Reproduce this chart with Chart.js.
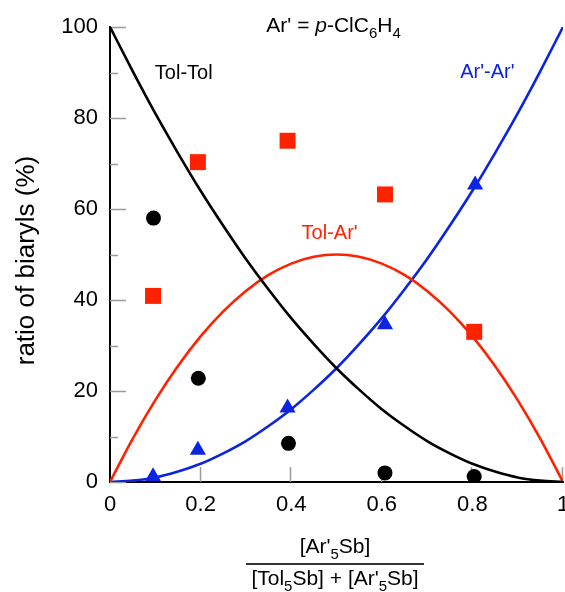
<!DOCTYPE html>
<html>
<head>
<meta charset="utf-8">
<script src="https://cdn.jsdelivr.net/npm/chart.js@4"></script>
<style>
  html, body { margin: 0; padding: 0; background: #fff; }
  canvas { display: block; }
</style>
</head>
<body>
<canvas id="biaryl" width="565" height="592"></canvas>
<script>
// theoretical statistical curves, every 0.05
const curveX      = [0, 0.05, 0.1, 0.15, 0.2, 0.25, 0.3, 0.35, 0.4, 0.45, 0.5, 0.55, 0.6, 0.65, 0.7, 0.75, 0.8, 0.85, 0.9, 0.95, 1];
const tolTolCurve = [100, 90.3, 81, 72.3, 64, 56.3, 49, 42.3, 36, 30.3, 25, 20.3, 16, 12.3, 9, 6.3, 4, 2.3, 1, 0.3, 0];
const tolArCurve  = [0, 9.5, 18, 25.5, 32, 37.5, 42, 45.5, 48, 49.5, 50, 49.5, 48, 45.5, 42, 37.5, 32, 25.5, 18, 9.5, 0];
const arArCurve   = [0, 0.3, 1, 2.3, 4, 6.3, 9, 12.3, 16, 20.3, 25, 30.3, 36, 42.3, 49, 56.3, 64, 72.3, 81, 90.3, 100];

// measured ratios (%)
const tolTolX   = [0.096, 0.195, 0.394, 0.607, 0.804];
const tolTolPct = [58, 22.8, 8.5, 2, 1.2];
const tolArX    = [0.095, 0.194, 0.392, 0.607, 0.804];
const tolArPct  = [40.9, 70.3, 75, 63.2, 33];
const arArX     = [0.095, 0.194, 0.392, 0.607, 0.806];
const arArPct   = [1.2, 7, 16.3, 34.6, 65.3];

const xTicks = [0, 0.2, 0.4, 0.6, 0.8, 1];
const yMinorTicks = [0, 10, 20, 30, 40, 50, 60, 70, 80, 90, 100];

const BLACK = '#000000', RED = '#ff2200', BLUE = '#0a24e0';
const FONT = '"Liberation Sans", Arial, Helvetica, sans-serif';
const PLOT_RIGHT = 563; // x = 1 sits right at the canvas edge

const pts = (xs, ys) => xs.map((x, i) => ({ x, y: ys[i] }));

// rich text: parts = [{t, sub, it}]
function drawRich(ctx, parts, x, y, size, color, align) {
  const fontOf = p => `${p.it ? 'italic ' : ''}${p.sub ? Math.round(size * 0.7) : size}px ${FONT}`;
  let w = 0;
  parts.forEach(p => { ctx.font = fontOf(p); w += ctx.measureText(p.t).width; });
  let cx = align === 'center' ? x - w / 2 : x;
  ctx.fillStyle = color;
  ctx.textBaseline = 'alphabetic';
  ctx.textAlign = 'left';
  parts.forEach(p => {
    ctx.font = fontOf(p);
    ctx.fillText(p.t, cx, p.sub ? y + size * 0.3 : y);
    cx += ctx.measureText(p.t).width;
  });
  return w;
}

// curve labels, in data units
const notes = [
  { x: 0.345, y: 98.9, size: 21, color: BLACK,
    parts: [{ t: "Ar' = " }, { t: 'p', it: true }, { t: '-ClC' }, { t: '6', sub: true }, { t: 'H' }, { t: '4', sub: true }] },
  { x: 0.099, y: 88.5, size: 20, color: BLACK, parts: [{ t: 'Tol-Tol' }] },
  { x: 0.773, y: 88.9, size: 20, color: BLUE, parts: [{ t: "Ar'-Ar'" }] },
  { x: 0.423, y: 53.5, size: 20, color: RED, parts: [{ t: "Tol-Ar'" }] }
];

const decor = {
  id: 'decor',
  // stretch the x scale out to the right edge (chart.js keeps a gap for the last label)
  afterLayout(chart) {
    const x = chart.scales.x;
    x.right = PLOT_RIGHT;
    x.width = PLOT_RIGHT - x.left;
    x.configure();
    chart.chartArea.right = PLOT_RIGHT;
    chart.chartArea.width = PLOT_RIGHT - chart.chartArea.left;
  },
  beforeDatasetsDraw(chart) {
    const { ctx, scales: { x, y } } = chart;
    ctx.save();
    ctx.strokeStyle = '#9a9a9a';
    ctx.lineWidth = 1.5;
    ctx.beginPath();
    yMinorTicks.forEach(v => {
      const py = Math.round(y.getPixelForValue(v)) + 0.5;
      const len = v % 20 === 0 ? 16 : 8;
      ctx.moveTo(x.left, py);
      ctx.lineTo(x.left + len, py);
    });
    xTicks.slice(1).forEach(v => {
      const px = Math.round(x.getPixelForValue(v)) - 0.5;
      ctx.moveTo(px, y.bottom);
      ctx.lineTo(px, y.bottom - 15);
    });
    ctx.stroke();
    ctx.restore();
  },
  afterDraw(chart) {
    const { ctx, scales: { x, y } } = chart;
    ctx.save();
    notes.forEach(n => drawRich(ctx, n.parts, x.getPixelForValue(n.x), y.getPixelForValue(n.y), n.size, n.color, 'left'));

    // y axis title
    ctx.save();
    ctx.translate(34, (y.top + y.bottom) / 2 + 6);
    ctx.rotate(-Math.PI / 2);
    ctx.font = `26px ${FONT}`;
    ctx.fillStyle = BLACK;
    ctx.textAlign = 'center';
    ctx.textBaseline = 'alphabetic';
    ctx.fillText('ratio of biaryls (%)', 0, 0);
    ctx.restore();

    // x axis title as a fraction
    const cx = 335;
    drawRich(ctx, [{ t: "[Ar'" }, { t: '5', sub: true }, { t: 'Sb]' }], cx, 553, 21, BLACK, 'center');
    ctx.strokeStyle = '#333';
    ctx.lineWidth = 2;
    ctx.beginPath();
    ctx.moveTo(246, 564);
    ctx.lineTo(424, 564);
    ctx.stroke();
    drawRich(ctx, [{ t: '[Tol' }, { t: '5', sub: true }, { t: 'Sb] + [Ar\'' }, { t: '5', sub: true }, { t: 'Sb]' }], cx, 585, 21, BLACK, 'center');
    ctx.restore();
  }
};

Chart.defaults.font.family = FONT;
Chart.defaults.color = BLACK;

const marker = (label, xs, ys, color, style, radius) => ({
  label, data: pts(xs, ys), showLine: false,
  pointStyle: style, pointRadius: radius, pointHoverRadius: radius,
  backgroundColor: color, borderColor: color, borderWidth: 0, order: 0
});
const curve = (label, ys, color) => ({
  label, data: pts(curveX, ys), showLine: true,
  borderColor: color, borderWidth: 2.6, pointRadius: 0,
  cubicInterpolationMode: 'monotone', fill: false, order: 1
});

new Chart(document.getElementById('biaryl'), {
  type: 'scatter',
  data: {
    datasets: [
      marker('Tol-Tol', tolTolX, tolTolPct, BLACK, 'circle', 7.5),
      marker("Tol-Ar'", tolArX, tolArPct, RED, 'rect', 11.3),
      marker("Ar'-Ar'", arArX, arArPct, BLUE, 'triangle', 9.3),
      curve('Tol-Tol curve', tolTolCurve, BLACK),
      curve("Tol-Ar' curve", tolArCurve, RED),
      curve("Ar'-Ar' curve", arArCurve, BLUE)
    ]
  },
  options: {
    responsive: false,
    animation: false,
    layout: { padding: { top: 27, right: 2, bottom: 0, left: 0 } },
    plugins: { legend: { display: false }, tooltip: { enabled: false } },
    scales: {
      x: {
        type: 'linear', min: 0, max: 1,
        grid: { display: false, drawTicks: false },
        border: { display: true, color: BLACK, width: 2 },
        ticks: {
          stepSize: 0.2, padding: 10, font: { size: 22 }, color: BLACK, maxRotation: 0,
          callback: v => String(+v.toFixed(1))
        },
        afterFit(s) { s.height = 110; }
      },
      y: {
        type: 'linear', min: 0, max: 100,
        grid: { display: false, drawTicks: false },
        border: { display: true, color: BLACK, width: 2 },
        ticks: { stepSize: 20, padding: 12, font: { size: 22 }, color: BLACK },
        afterFit(s) { s.width = 110; }
      }
    }
  },
  plugins: [decor]
});
</script>
</body>
</html>
